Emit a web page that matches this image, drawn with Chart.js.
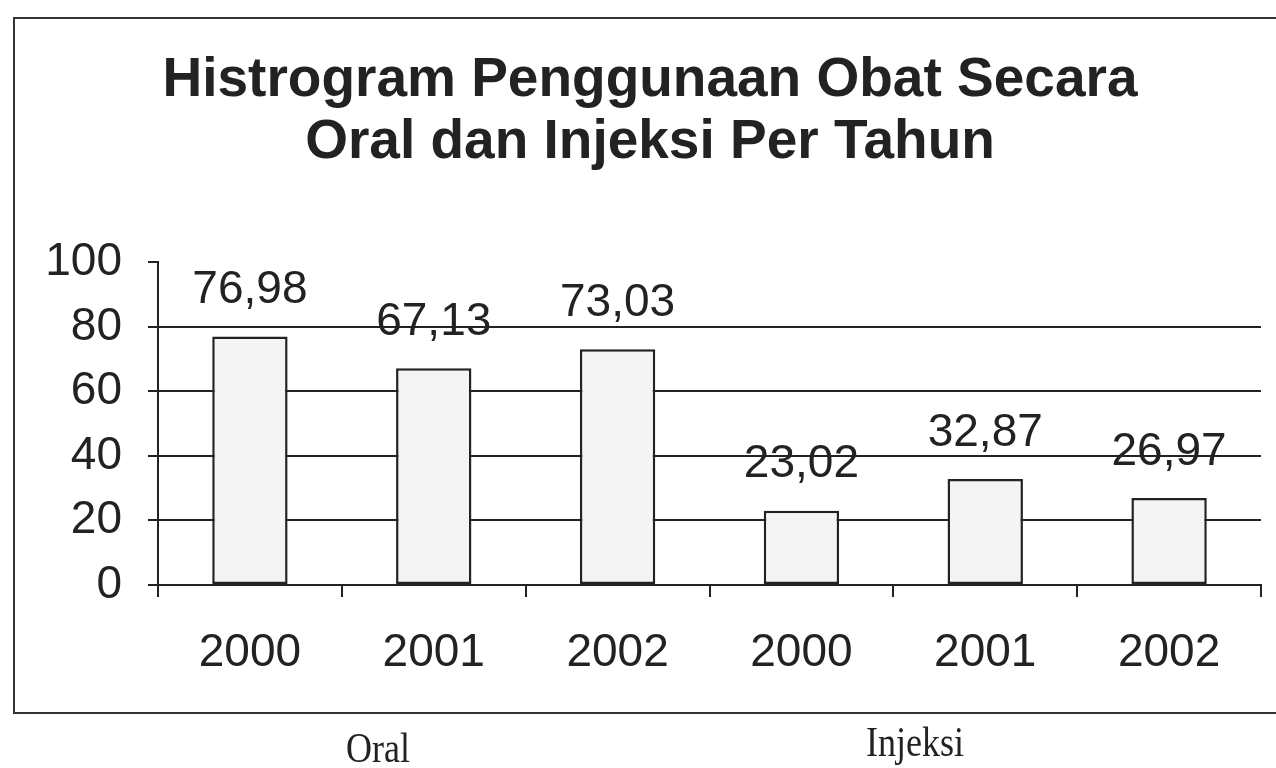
<!DOCTYPE html>
<html>
<head>
<meta charset="utf-8">
<script src="https://cdn.jsdelivr.net/npm/chart.js@4.4.0/dist/chart.umd.min.js"></script>
<style>
    body { margin: 0; background: #fff; overflow: hidden; }
    #frame {
        position: absolute; left: 13px; top: 17px; width: 1300px; height: 693px;
        border: 2px solid #333;
    }
    #usageChart { position: absolute; left: 0; top: 0; }
    .group-label {
        position: absolute; font-family: "Liberation Serif", "DejaVu Serif", serif;
        font-size: 36px; color: #222; transform: translateX(-50%) scaleY(1.2);
    }
</style>
</head>
<body>
<div id="frame"></div>
<canvas id="usageChart" width="1276" height="768"></canvas>
<div class="group-label" id="group-oral" style="left:378px; top:727px;"></div>
<div class="group-label" id="group-injeksi" style="left:915px; top:721px;"></div>
<script>
const titleLines = ['Histrogram Penggunaan Obat Secara', 'Oral dan Injeksi Per Tahun'];
const years = ['2000', '2001', '2002', '2000', '2001', '2002'];
const groups = ['Oral', 'Injeksi'];
const usage = [76.98, 67.13, 73.03, 23.02, 32.87, 26.97];
const yTicks = [0, 20, 40, 60, 80, 100];

document.getElementById('group-oral').textContent = groups[0];
document.getElementById('group-injeksi').textContent = groups[1];

const ink = '#222';
const sans = '"Liberation Sans", Arial, sans-serif';

// value labels above each bar, with a decimal comma
const valueLabels = {
    id: 'valueLabels',
    afterDatasetsDraw(chart) {
        const c = chart.ctx;
        const meta = chart.getDatasetMeta(0);
        c.save();
        c.font = '46px ' + sans;
        c.fillStyle = ink;
        c.textAlign = 'center';
        c.textBaseline = 'middle';
        meta.data.forEach((bar, i) => {
            c.fillText(usage[i].toFixed(2).replace('.', ','), bar.x, bar.y - 46);
        });
        c.restore();
    }
};

const ctx = document.getElementById('usageChart').getContext('2d');

const chart = new Chart(ctx, {
    type: 'bar',
    data: {
        labels: years,
        datasets: [{
            data: usage,
            backgroundColor: '#f4f4f4',
            borderColor: ink,
            borderWidth: 2.5,
            borderSkipped: false,
            categoryPercentage: 1,
            barPercentage: 0.41
        }]
    },
    options: {
        responsive: false,
        animation: false,
        layout: { padding: { left: 39, right: 15, top: 0, bottom: 0 } },
        plugins: {
            legend: { display: false },
            tooltip: { enabled: false },
            title: {
                display: true,
                text: titleLines,
                color: ink,
                font: { family: sans, size: 55, weight: 'bold', lineHeight: 1.13 },
                padding: { top: 50, bottom: 88 }
            }
        },
        scales: {
            x: {
                afterFit: scale => { scale.height = 183; },
                grid: { drawOnChartArea: false, drawTicks: true, tickLength: 12, tickColor: ink, lineWidth: 2 },
                border: { display: true, color: ink, width: 2 },
                ticks: { color: ink, padding: 29, font: { family: sans, size: 46 } }
            },
            y: {
                min: 0,
                max: 100,
                afterFit: scale => { scale.width = 119; },
                afterBuildTicks: scale => { scale.ticks = yTicks.map(v => ({ value: v })); },
                grid: {
                    color: c => c.tick && c.tick.value === 100 ? 'rgba(0,0,0,0)' : ink,
                    tickColor: ink,
                    lineWidth: 2,
                    tickLength: 10
                },
                border: { display: true, color: ink, width: 2 },
                ticks: { color: ink, padding: 26, font: { family: sans, size: 46 } }
            }
        }
    },
    plugins: [valueLabels]
});
</script>
</body>
</html>
